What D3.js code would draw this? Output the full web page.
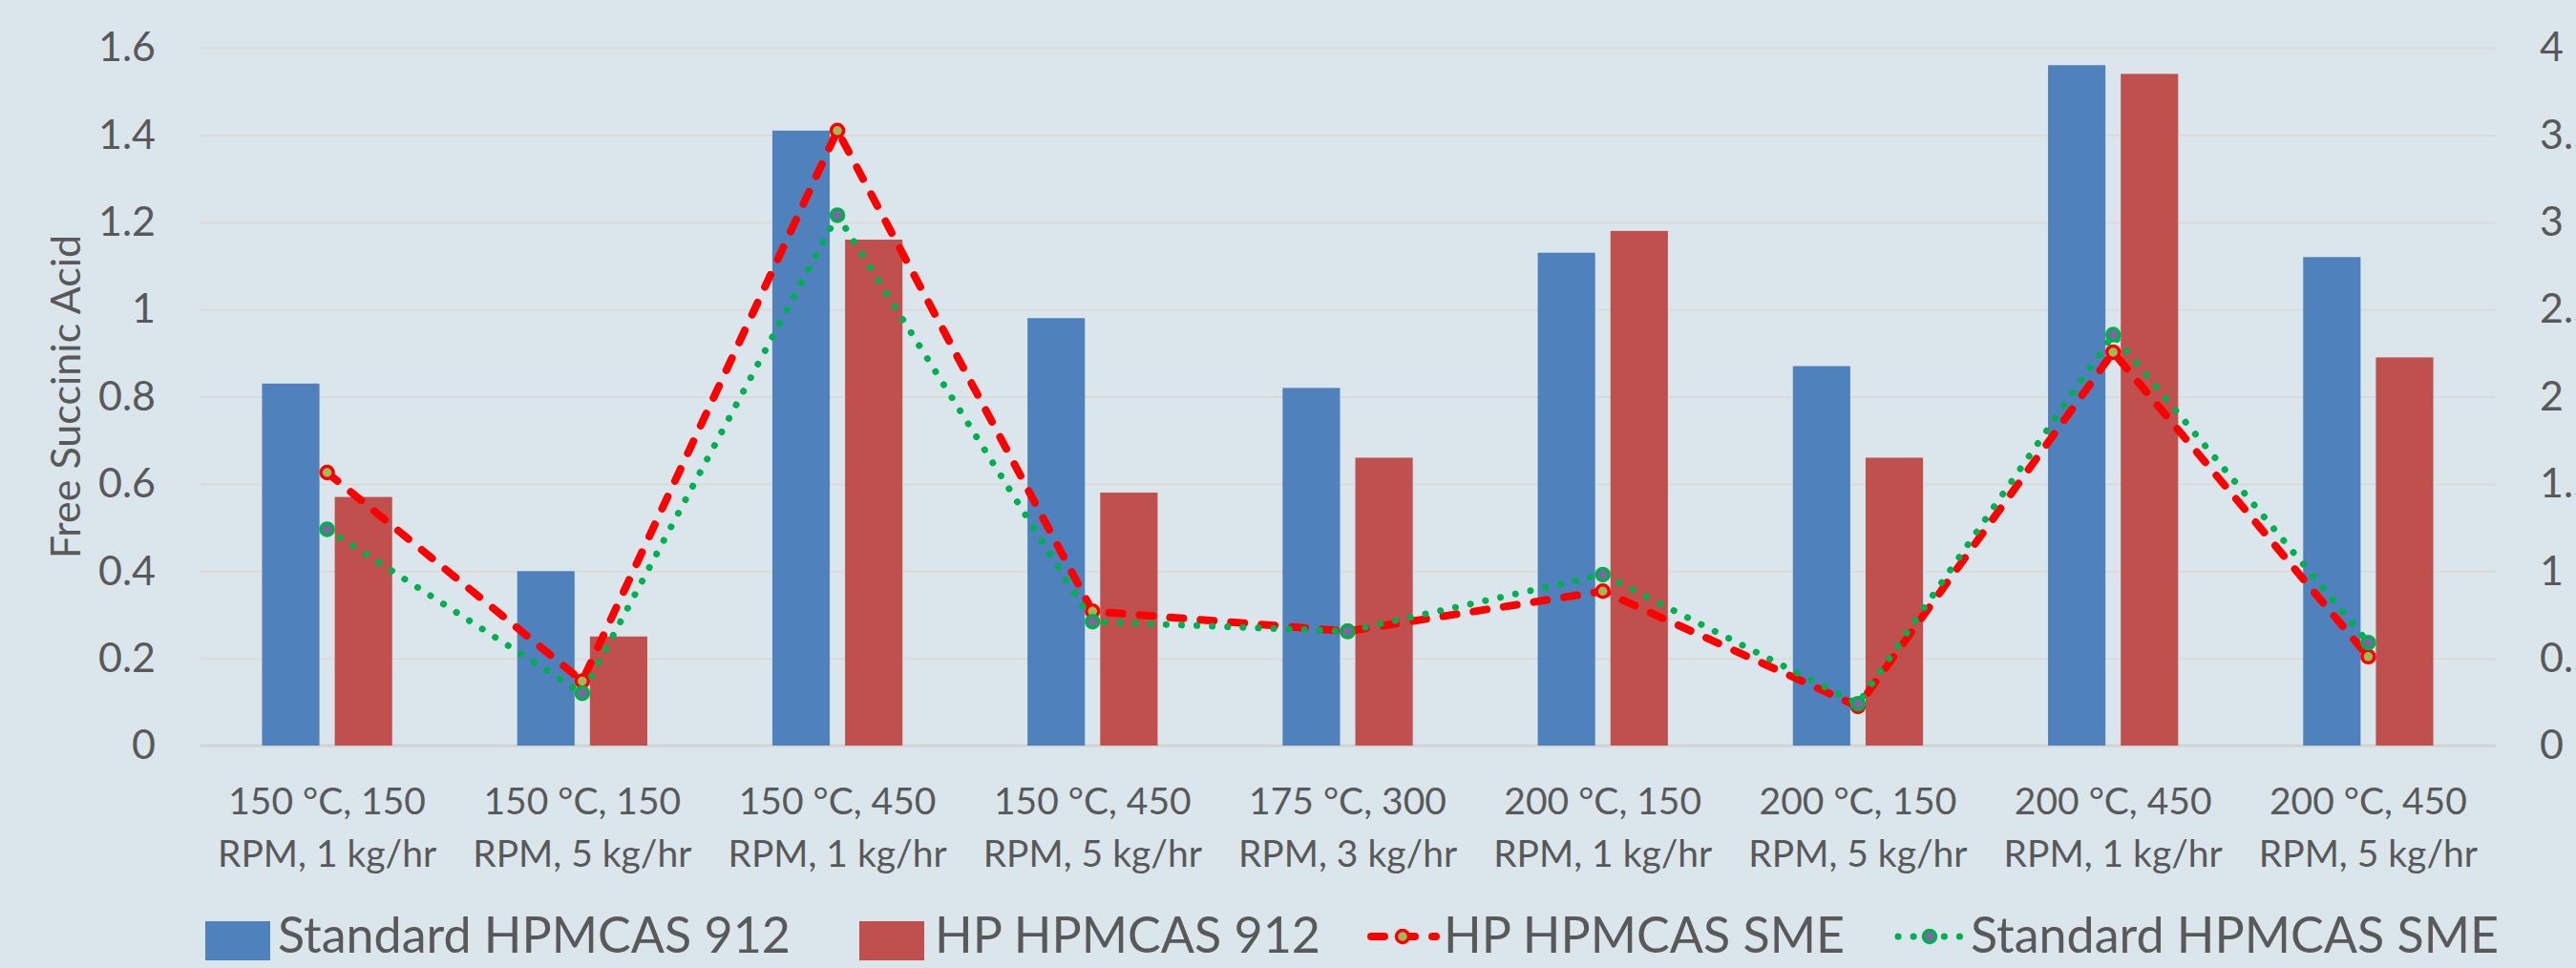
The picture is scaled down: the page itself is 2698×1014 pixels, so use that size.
<!DOCTYPE html>
<meta charset="utf-8">
<script src="https://cdnjs.cloudflare.com/ajax/libs/d3/7.8.5/d3.min.js"></script>
<style>

body {
  margin: 0;
  background: #dae6ec;
}

text {
  font-family: Lato, "Open Sans", sans-serif;
  fill: #595959;
}

.grid line {
  stroke: #dcdad9;
  stroke-width: 2px;
}

.bar-std { fill: #4f81bd; }
.bar-hp { fill: #c0504d; }

path.line {
  fill: none;
  stroke-linecap: round;
  stroke-linejoin: round;
}

.hp-line {
  stroke: #ff0000;
  stroke-width: 8px;
  stroke-dasharray: 14 18;
}

.std-line {
  stroke: #00b050;
  stroke-width: 7px;
  stroke-dasharray: 0.1 16;
}

.hp-dot { fill: #9bbb59; stroke: #ff0000; stroke-width: 3.5px; }
.std-dot { fill: #8064a2; stroke: #00b050; stroke-width: 3.5px; }

</style>
<body>
<script>

// chart data
var categories = [
  "150 °C, 150 RPM, 1 kg/hr",
  "150 °C, 150 RPM, 5 kg/hr",
  "150 °C, 450 RPM, 1 kg/hr",
  "150 °C, 450 RPM, 5 kg/hr",
  "175 °C, 300 RPM, 3 kg/hr",
  "200 °C, 150 RPM, 1 kg/hr",
  "200 °C, 150 RPM, 5 kg/hr",
  "200 °C, 450 RPM, 1 kg/hr",
  "200 °C, 450 RPM, 5 kg/hr"
];

// Free succinic acid (left axis)
var standard912 = [0.83, 0.40, 1.41, 0.98, 0.82, 1.13, 0.87, 1.56, 1.12];
var hp912       = [0.57, 0.25, 1.16, 0.58, 0.66, 1.18, 0.66, 1.54, 0.89];

// SME (right axis)
var hpSME       = [1.565, 0.37, 3.525, 0.77, 0.655, 0.885, 0.225, 2.255, 0.51];
var standardSME = [1.24, 0.30, 3.04, 0.71, 0.655, 0.98, 0.24, 2.355, 0.59];

var leftTicks  = [0, 0.2, 0.4, 0.6, 0.8, 1, 1.2, 1.4, 1.6];
var rightTicks = [0, 0.5, 1, 1.5, 2, 2.5, 3, 3.5, 4];

var seriesNames = ["Standard HPMCAS 912", "HP HPMCAS 912", "HP HPMCAS SME", "Standard HPMCAS SME"];

// Layout (plot box in page pixels)
var width = 2698,
    height = 1014,
    plotLeft = 209,
    plotRight = 2614,
    plotTop = 50,
    plotBottom = 781;

var svg = d3.select("body").append("svg")
    .attr("width", width)
    .attr("height", height);

svg.append("rect")
    .attr("width", width)
    .attr("height", height)
    .attr("fill", "#dae6ec");

var x = d3.scaleBand()
    .domain(categories)
    .range([plotLeft, plotRight])
    .padding(0);

var yL = d3.scaleLinear().domain([0, 1.6]).range([plotBottom, plotTop]);
var yR = d3.scaleLinear().domain([0, 4]).range([plotBottom, plotTop]);

var fmt = function(d) { return String(+d.toFixed(1)); };

// gridlines
svg.append("g")
    .attr("class", "grid")
    .attr("transform", "translate(" + plotLeft + ",0)")
    .call(d3.axisRight(yL).tickValues(leftTicks).tickSize(plotRight - plotLeft).tickFormat(""))
    .call(function(g) { g.select(".domain").remove(); });

// category axis baseline
svg.append("line")
    .attr("x1", plotLeft).attr("x2", plotRight)
    .attr("y1", yL(0)).attr("y2", yL(0))
    .attr("stroke", "#d2d2d2")
    .attr("stroke-width", 3);

// left axis labels
var gl = svg.append("g")
    .attr("transform", "translate(163,0)")
    .call(d3.axisLeft(yL).tickValues(leftTicks).tickSize(0).tickPadding(0).tickFormat(fmt));
gl.select(".domain").remove();
gl.selectAll("text").style("font-size", "43px").attr("fill", "#595959");

// right axis labels (cut by the page edge, as in the original)
var gr = svg.append("g")
    .attr("transform", "translate(2660,0)")
    .call(d3.axisRight(yR).tickValues(rightTicks).tickSize(0).tickPadding(0).tickFormat(fmt));
gr.select(".domain").remove();
gr.selectAll("text").style("font-size", "43px").attr("fill", "#595959");

// axis title
svg.append("text")
    .attr("transform", "translate(84," + ((plotTop + plotBottom) / 2) + ") rotate(-90)")
    .attr("text-anchor", "middle")
    .style("font-size", "43px")
    .text("Free Succinic Acid");

// category labels, two lines each
var cx = function(c) { return x(c) + x.bandwidth() / 2; };

var labels = svg.append("g").selectAll("text")
    .data(categories)
    .enter().append("text")
    .attr("text-anchor", "middle")
    .style("font-size", "39px");

labels.append("tspan")
    .attr("x", cx)
    .attr("y", 853)
    .text(function(d) { return d.slice(0, d.indexOf(" RPM")); });

labels.append("tspan")
    .attr("x", cx)
    .attr("y", 908)
    .text(function(d) { return d.slice(d.indexOf("RPM")); });

// bars
var bw = x.bandwidth() * 0.225,
    gap = x.bandwidth() * 0.06;

svg.append("g").selectAll("rect")
    .data(standard912)
    .enter().append("rect")
    .attr("class", "bar-std")
    .attr("x", function(d, i) { return cx(categories[i]) - gap / 2 - bw; })
    .attr("y", function(d) { return yL(d); })
    .attr("width", bw)
    .attr("height", function(d) { return yL(0) - yL(d); });

svg.append("g").selectAll("rect")
    .data(hp912)
    .enter().append("rect")
    .attr("class", "bar-hp")
    .attr("x", function(d, i) { return cx(categories[i]) + gap / 2; })
    .attr("y", function(d) { return yL(d); })
    .attr("width", bw)
    .attr("height", function(d) { return yL(0) - yL(d); });

// SME lines on the right axis
var line = d3.line()
    .x(function(d, i) { return cx(categories[i]); })
    .y(function(d) { return yR(d); });

function drawLine(values, cls, dotCls) {
  svg.append("path")
      .datum(values)
      .attr("class", "line " + cls)
      .attr("d", line);
  svg.append("g").selectAll("circle")
      .data(values)
      .enter().append("circle")
      .attr("class", dotCls)
      .attr("cx", function(d, i) { return cx(categories[i]); })
      .attr("cy", function(d) { return yR(d); })
      .attr("r", 6.5);
}

drawLine(hpSME, "hp-line", "hp-dot");
drawLine(standardSME, "std-line", "std-dot");

// legend
var legendX = [215, 900, 1432, 1984],
    legendY = 985;

var legend = svg.append("g");

function legendText(x0, name) {
  legend.append("text")
      .attr("x", x0)
      .attr("y", 998)
      .style("font-size", "52px")
      .text(name);
}

legend.append("rect")
    .attr("class", "bar-std")
    .attr("x", legendX[0]).attr("y", 965)
    .attr("width", 68).attr("height", 41);
legendText(legendX[0] + 76, seriesNames[0]);

legend.append("rect")
    .attr("class", "bar-hp")
    .attr("x", legendX[1]).attr("y", 965)
    .attr("width", 68).attr("height", 41);
legendText(legendX[1] + 79, seriesNames[1]);

[[legendX[2], "hp-line", "hp-dot", seriesNames[2]],
 [legendX[3], "std-line", "std-dot", seriesNames[3]]].forEach(function(l) {
  legend.append("path")
      .attr("class", "line " + l[1])
      .attr("d", "M" + (l[0] + 4) + "," + (legendY - 4) + "H" + (l[0] + 72));
  legend.append("circle")
      .attr("class", l[2])
      .attr("cx", l[0] + 37)
      .attr("cy", legendY - 4)
      .attr("r", 6.5);
  legendText(l[0] + 80, l[3]);
});

</script>
